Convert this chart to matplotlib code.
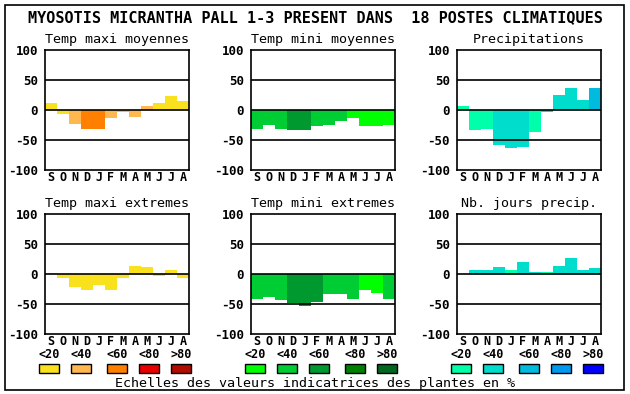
import numpy as np
import matplotlib
matplotlib.use("Agg")
import matplotlib.pyplot as plt
from matplotlib.patches import Rectangle

W, H = 630, 394
MONO = "DejaVu Sans Mono"

# Mois (septembre -> aout)
months = ["S", "O", "N", "D", "J", "F", "M", "A", "M", "J", "J", "A"]

# Valeurs des 6 graphiques (ecart en %)
tmax_moy = [12, -6, -23, -31, -31, -13, -4, -11, 7, 12, 23, 15]
tmin_moy = [-31, -25, -31, -34, -33, -27, -25, -18, -13, -26, -26, -25]
precip = [7, -33, -31, -58, -63, -61, -36, -4, 25, 37, 17, 37]
tmax_ext = [2, -6, -22, -26, -18, -26, -6, 13, 12, -3, 7, -6]
tmin_ext = [-41, -38, -44, -48, -53, -46, -34, -34, -41, -26, -32, -41]
nb_jours = [0, 7, 7, 12, 7, 20, 3, 3, 13, 27, 7, 10]

# Classe de la valeur indicatrice (0: <20 ... 4: >80)
cls_tmax_moy = [0, 0, 1, 2, 2, 1, 1, 1, 1, 0, 0, 0]
cls_tmin_moy = [1, 1, 1, 2, 2, 1, 1, 1, 0, 0, 0, 0]
cls_precip = [0, 0, 0, 1, 1, 1, 0, 1, 1, 1, 1, 2]
cls_tmax_ext = [0] * 12
cls_tmin_ext = [1, 1, 1, 2, 2, 2, 1, 1, 1, 0, 0, 1]
cls_nb_jours = [1, 1, 1, 1, 0, 1, 1, 0, 1, 1, 1, 1]

scale_labels = ["<20", "<40", "<60", "<80", ">80"]
pal_temp_max = ["#FAE11E", "#FFB850", "#FF8000", "#E80000", "#B00C00"]
pal_temp_min = ["#00FF00", "#00CC33", "#009930", "#008000", "#006620"]
pal_eau = ["#00FFAA", "#00DDCC", "#00BBDD", "#0099EE", "#0000FF"]

panels = [
    ("Temp maxi moyennes", tmax_moy, cls_tmax_moy, pal_temp_max, 45, 50),
    ("Temp mini moyennes", tmin_moy, cls_tmin_moy, pal_temp_min, 251, 50),
    ("Precipitations", precip, cls_precip, pal_eau, 457, 50),
    ("Temp maxi extremes", tmax_ext, cls_tmax_ext, pal_temp_max, 45, 214),
    ("Temp mini extremes", tmin_ext, cls_tmin_ext, pal_temp_min, 251, 214),
    ("Nb. jours precip.", nb_jours, cls_nb_jours, pal_eau, 457, 214),
]

fig = plt.figure(figsize=(W / 100, H / 100), dpi=100)
fig.patch.set_facecolor("white")

# cadre general
fig.patches.append(Rectangle((5 / W, 1 - 390 / H), 619 / W, 385 / H,
                             transform=fig.transFigure, fill=False,
                             edgecolor="black", linewidth=1.2))

fig.text(315 / W, 1 - 18 / H,
         "MYOSOTIS MICRANTHA PALL 1-3 PRESENT DANS  18 POSTES CLIMATIQUES",
         family=MONO, fontweight="bold", fontsize=10.9,
         ha="center", va="center")

x = np.arange(12)
for title, vals, cls, pal, px, py in panels:
    ax = fig.add_axes([px / W, 1 - (py + 120) / H, 144 / W, 120 / H])
    cols = [pal[c] for c in cls]
    ax.bar(x, vals, width=1.0, align="edge", color=cols, linewidth=0,
           zorder=2)
    for yv in (50, 0, -50):
        ax.axhline(yv, color="black", linewidth=1.2, zorder=3)
    ax.set_xlim(0, 12)
    ax.set_ylim(-100, 100)
    ax.set_yticks([100, 50, 0, -50, -100])
    ax.set_yticklabels(["100", "50", "0", "-50", "-100"],
                       family=MONO, fontweight="bold", fontsize=9)
    ax.set_xticks(x + 0.5)
    ax.set_xticklabels(months, family=MONO, fontweight="bold", fontsize=8.5)
    ax.tick_params(length=0)
    ax.tick_params(axis="x", pad=1)
    ax.tick_params(axis="y", pad=5)
    for sp in ax.spines.values():
        sp.set_linewidth(1.2)
        sp.set_zorder(4)
    ax.set_title(title, family=MONO, fontsize=9.6, pad=5)

# echelles de couleurs
legends = [
    (pal_temp_max, [39, 71, 107, 139, 171]),
    (pal_temp_min, [245, 277, 309, 345, 377]),
    (pal_eau, [451, 483, 519, 551, 583]),
]
for pal, xs in legends:
    for col, lab, x0 in zip(pal, scale_labels, xs):
        fig.patches.append(Rectangle((x0 / W, 1 - 373 / H), 20 / W, 9 / H,
                                     transform=fig.transFigure,
                                     facecolor=col, edgecolor="black",
                                     linewidth=1.0))
        fig.text((x0 + 10) / W, 1 - 354 / H, lab, family=MONO,
                 fontweight="bold", fontsize=8.5, ha="center", va="center")

fig.text(315 / W, 1 - 383 / H,
         "Echelles des valeurs indicatrices des plantes en %",
         family=MONO, fontsize=9.6, ha="center", va="center")

fig.savefig("out.png", dpi=100, facecolor="white")
